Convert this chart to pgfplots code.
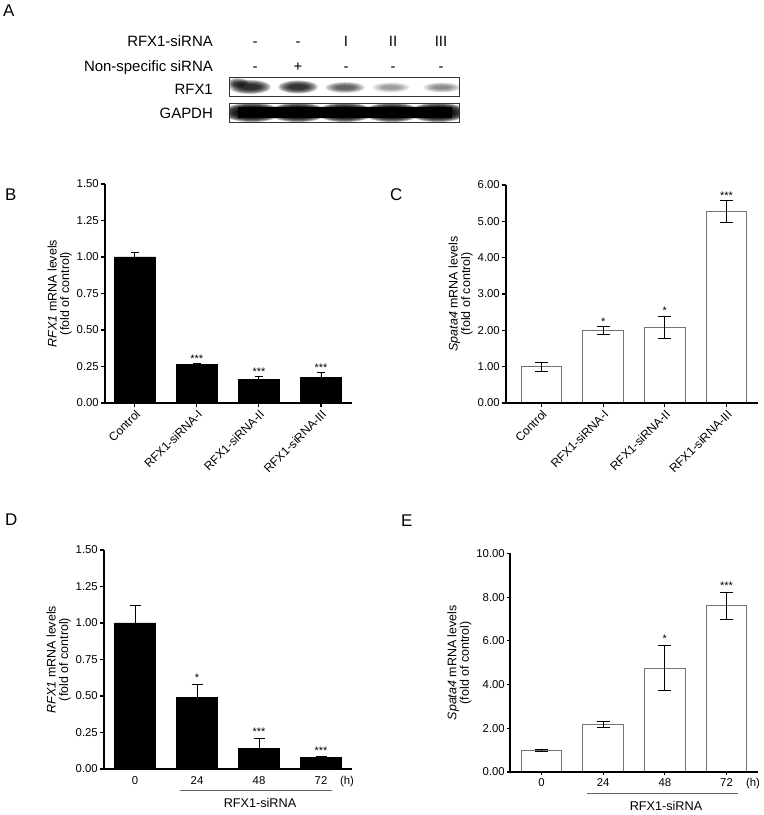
\documentclass[border=0pt]{standalone}
\usepackage{pgfplots}
\pgfplotsset{compat=1.18}
\usepackage{fontspec}
\setmainfont{Liberation Sans}
\newcommand{\fs}[1]{\fontsize{#1}{#1}\selectfont}
\newcommand{\band}[5]{%
  \foreach \k in {1,...,8}{%
    \fill[black,opacity={min(1,#5*0.2)}] (#1,#2) ellipse ({#3*(1-0.08*(\k-1))} and {#4*(1-0.09*(\k-1))});}%
}
\pgfplotsset{
  panel/.style={
    scale only axis, axis lines=left, axis line style={-, line width=1.3bp},
    axis on top,
    tick align=outside, major tick length=4.5bp,
    tick style={line width=1.1bp, black},
    /pgf/number format/assume math mode=true,
    yticklabel style={font=\fs{11.4}, inner xsep=1.5bp,
      /pgf/number format/.cd, fixed, fixed zerofill, precision=2},
    xticklabel style={font=\fs{11.4}},
    ylabel style={font=\fs{12.5}, align=center},
    ymin=0, xtick={0,1,2,3}, clip=false,
  },
  stars/.style={draw=none, mark=none, nodes near coords,
    point meta=explicit symbolic,
    every node near coord/.append style={font=\fs{11}, anchor=south, inner sep=0pt}},
}
\begin{document}
\begin{tikzpicture}[x=1bp,y=1bp]
\path[use as bounding box] (0,0) rectangle (764,815);

% ---------- Panel A ----------
\node[anchor=base west, font=\fs{17}, inner sep=0] at (3,798) {A};
\begin{scope}[every node/.style={font=\fs{15}, inner sep=0}]
\node[anchor=base east] at (213,768.3) {RFX1-siRNA};
\node[anchor=base east] at (213,743.3) {Non-specific siRNA};
\node[anchor=base east] at (213,720) {RFX1};
\node[anchor=base east] at (213,696.7) {GAPDH};
\foreach \x/\t in {255/-,298/-,346/I,393/II,441/III} \node[anchor=base] at (\x,768.3) {\t};
\foreach \x/\t in {255/-,298/+,346/-,393/-,441/-} \node[anchor=base] at (\x,743.3) {\t};
\end{scope}
% RFX1 blot
\begin{scope}
\clip (229,738) rectangle (459,719);
\band{250}{728}{21}{7}{0.95}
\band{238}{732}{11}{5}{0.6}
\band{298}{728}{20}{6.5}{0.9}
\band{345}{727.5}{20}{5.5}{0.55}
\band{391}{727.5}{19}{5}{0.3}
\band{442}{727.5}{19}{5}{0.35}
\end{scope}
\draw[black!80, line width=0.9bp] (229,738) rectangle (459,719);
% GAPDH blot
\begin{scope}
\clip (229,712) rectangle (459,693);
\foreach \x in {252,298,345,392,438} {\band{\x}{702.5}{29}{9.5}{1.6}}
\fill[black] (238,697) rectangle (452,708);
\end{scope}
\draw[black!80, line width=0.9bp] (229,712) rectangle (459,693);

% ---------- Panel B ----------
\node[anchor=base west, font=\fs{17}, inner sep=0] at (5,614) {B};
\begin{axis}[panel, at={(105bp,412bp)}, anchor=south west, width=247bp, height=219bp,
  xmin=-0.48, xmax=3.5, ymax=1.5, ytick={0,0.25,0.5,0.75,1,1.25,1.5},
  xticklabels={Control,RFX1-siRNA-I,RFX1-siRNA-II,RFX1-siRNA-III},
  xticklabel style={rotate=45, anchor=north east, inner sep=1bp, font=\fs{12}},
  ylabel={\textit{RFX1} mRNA levels\\(fold of control)}]
\addplot[ybar, bar width=0.66, fill=black, draw=black,
  error bars/.cd, y dir=plus, y explicit,
  error bar style={black, line width=0.9bp},
  error mark options={rotate=90, mark size=4bp, line width=0.9bp, black}]
  coordinates {(0,1.00) +- (0,0.03) (1,0.265) +- (0,0.008) (2,0.162) +- (0,0.023) (3,0.174) +- (0,0.036)};
\addplot[stars] coordinates {(1,0.275) [***] (2,0.187) [***] (3,0.212) [***]};
\end{axis}

% ---------- Panel C ----------
\node[anchor=base west, font=\fs{17}, inner sep=0] at (390,614) {C};
\begin{axis}[panel, at={(506bp,412bp)}, anchor=south west, width=252bp, height=218bp,
  xmin=-0.575, xmax=3.51, ymax=6, ytick={0,1,2,3,4,5,6},
  xticklabels={Control,RFX1-siRNA-I,RFX1-siRNA-II,RFX1-siRNA-III},
  xticklabel style={rotate=45, anchor=north east, inner sep=1bp, font=\fs{12}},
  ylabel={\textit{Spata4} mRNA levels\\(fold of control)}]
\addplot[ybar, bar width=0.66, fill=white, draw=black!55, line width=0.9bp,
  error bars/.cd, y dir=both, y explicit,
  error bar style={black, line width=0.9bp},
  error mark options={rotate=90, mark size=6.5bp, line width=0.9bp, black}]
  coordinates {(0,1.00) +- (0,0.12) (1,1.99) +- (0,0.11) (2,2.09) +- (0,0.30) (3,5.27) +- (0,0.30)};
\addplot[stars] coordinates {(1,2.14) [*] (2,2.42) [*] (3,5.60) [***]};
\end{axis}

% ---------- Panel D ----------
\node[anchor=base west, font=\fs{17}, inner sep=0] at (5,289) {D};
\begin{axis}[panel, at={(104bp,46bp)}, anchor=south west, width=248bp, height=219bp,
  xmin=-0.5, xmax=3.5, ymax=1.5, ytick={0,0.25,0.5,0.75,1,1.25,1.5},
  xticklabels={0,24,48,72}, xtick style={draw=none},
  ylabel={\textit{RFX1} mRNA levels\\(fold of control)}]
\addplot[ybar, bar width=0.66, fill=black, draw=black,
  error bars/.cd, y dir=plus, y explicit,
  error bar style={black, line width=0.9bp},
  error mark options={rotate=90, mark size=5.5bp, line width=0.9bp, black}]
  coordinates {(0,1.00) +- (0,0.12) (1,0.49) +- (0,0.09) (2,0.142) +- (0,0.068) (3,0.08) +- (0,0.009)};
\addplot[stars] coordinates {(1,0.60) [*] (2,0.225) [***] (3,0.10) [***]};
\end{axis}
\node[font=\fs{11.4}, anchor=base] at (347,30) {(h)};
\draw[black!60, line width=0.8bp] (180,25) -- (332,25);
\node[font=\fs{12.7}, anchor=base] at (260,7.5) {RFX1-siRNA};

% ---------- Panel E ----------
\node[anchor=base west, font=\fs{17}, inner sep=0] at (401,288) {E};
\begin{axis}[panel, at={(510bp,43bp)}, anchor=south west, width=248bp, height=218.5bp,
  xmin=-0.51, xmax=3.51, ymax=10, ytick={0,2,4,6,8,10},
  xticklabels={0,24,48,72}, major tick length=3.5bp,
  ylabel={\textit{Spata4} mRNA levels\\(fold of control)}]
\addplot[ybar, bar width=0.66, fill=white, draw=black!55, line width=0.9bp,
  error bars/.cd, y dir=both, y explicit,
  error bar style={black, line width=0.9bp},
  error mark options={rotate=90, mark size=6.5bp, line width=0.9bp, black}]
  coordinates {(0,1.00) +- (0,0.04) (1,2.18) +- (0,0.15) (2,4.76) +- (0,1.04) (3,7.60) +- (0,0.63)};
\addplot[stars] coordinates {(2,5.90) [*] (3,8.35) [***]};
\end{axis}
\node[font=\fs{11.4}, anchor=base] at (753,28) {(h)};
\draw[black!60, line width=0.8bp] (587,22) -- (738,22);
\node[font=\fs{12.7}, anchor=base] at (666,4.5) {RFX1-siRNA};
\end{tikzpicture}
\end{document}
